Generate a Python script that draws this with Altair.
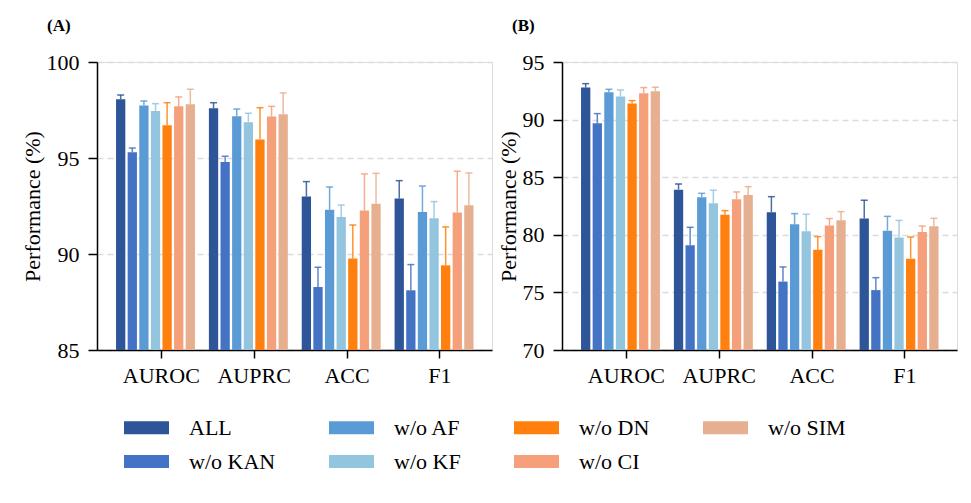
import altair as alt
import pandas as pd

metrics = ["AUROC", "AUPRC", "ACC", "F1"]
series = ["ALL", "w/o KAN", "w/o AF", "w/o KF", "w/o DN", "w/o CI", "w/o SIM"]
colors = ["#2E5597", "#4472C4", "#5B9BD5", "#93C5DF", "#FF800E", "#F5A07A", "#E6AF8F"]

# Panel A: mean per series, one list per metric order
a_auroc = [98.06, 95.30, 97.74, 97.45, 96.70, 97.69, 97.80]
a_auprc = [97.59, 94.79, 97.17, 96.86, 95.97, 97.16, 97.28]
a_acc = [92.99, 88.28, 92.31, 91.93, 89.76, 92.26, 92.62]
a_f1 = [92.89, 88.11, 92.19, 91.86, 89.41, 92.16, 92.54]
a_auroc_sd = [0.22, 0.22, 0.23, 0.38, 1.18, 0.49, 0.78]
a_auprc_sd = [0.29, 0.30, 0.38, 0.47, 1.65, 0.53, 1.11]
a_acc_sd = [0.78, 1.03, 1.18, 0.62, 1.75, 1.91, 1.58]
a_f1_sd = [0.93, 1.34, 1.35, 0.87, 2.00, 2.15, 1.68]

# Panel B
b_auroc = [92.78, 89.68, 92.37, 92.00, 91.39, 92.28, 92.46]
b_auprc = [83.92, 79.09, 83.26, 82.74, 81.75, 83.08, 83.46]
b_acc = [81.95, 75.94, 80.91, 80.30, 78.71, 80.80, 81.26]
b_f1 = [81.41, 75.20, 80.36, 79.77, 77.93, 80.24, 80.74]
b_auroc_sd = [0.34, 0.84, 0.26, 0.57, 0.26, 0.50, 0.35]
b_auprc_sd = [0.49, 1.56, 0.34, 1.13, 0.35, 0.64, 0.72]
b_acc_sd = [1.36, 1.27, 0.93, 1.48, 1.13, 0.61, 0.75]
b_f1_sd = [1.59, 1.08, 1.24, 1.48, 1.88, 0.52, 0.69]

a_y_ticks = [85, 90, 95, 100]
b_y_ticks = [70, 75, 80, 85, 90, 95]

FONT = "'Liberation Serif', 'Times New Roman', Times, serif"


def make_df(means, sds):
    rows = []
    for m, mv, sv in zip(metrics, means, sds):
        for s, v, e in zip(series, mv, sv):
            rows.append({"metric": m, "series": s, "value": v, "upper": round(v + e, 3)})
    return pd.DataFrame(rows)


def panel(df, ticks, label, show_legend):
    ymin, ymax = ticks[0], ticks[-1]
    xenc = alt.X(
        "metric:N",
        sort=metrics,
        scale=alt.Scale(paddingInner=0, paddingOuter=0.127, align=0.758),
        axis=alt.Axis(title=None, labelAngle=0, labelFontSize=22, labelFont=FONT,
                      labelColor="black", tickSize=8, tickWidth=1.5, tickColor="black",
                      domainColor="black", domainWidth=1.5, grid=False, labelPadding=7),
    )
    xoff = alt.XOffset("series:N", scale=alt.Scale(domain=series + ["_pad"], paddingInner=0.2, paddingOuter=0.1))
    yscale = alt.Scale(domain=[ymin, ymax], zero=False, nice=False)
    yaxis = alt.Axis(title="Performance (%)", values=ticks, labelFontSize=22, labelFont=FONT,
                     labelColor="black", titleFont=FONT, titleFontSize=22, titleFontWeight="normal",
                     titleColor="black", tickSize=9, tickWidth=1.5, tickColor="black",
                     domainColor="black", domainWidth=1.5, labelPadding=9, titlePadding=2,
                     grid=True, gridDash=[6, 4], gridColor="#dcdcdc", gridWidth=1.3)
    cscale = alt.Scale(domain=series, range=colors)
    leg = alt.Legend(title=None, orient="none", legendX=27, legendY=343, columns=4,
                     symbolType="M-1,-0.29H1V0.29H-1Z", symbolSize=2025, symbolStrokeWidth=0,
                     symbolOpacity=1, labelFont=FONT, labelFontSize=22, labelColor="black",
                     labelOffset=20, columnPadding=53, rowPadding=0, labelLimit=300)
    base = alt.Chart(df).encode(x=xenc, xOffset=xoff)
    bars = base.mark_bar().encode(
        y=alt.Y("value:Q", scale=yscale, axis=yaxis),
        y2=alt.datum(ymin),
        color=alt.Color("series:N", scale=cscale, legend=leg if show_legend else None),
    )
    rule = base.mark_rule(strokeWidth=1.5, opacity=0.85).encode(
        y=alt.Y("value:Q"), y2="upper:Q",
        color=alt.Color("series:N", scale=cscale, legend=None),
    )
    cap = base.mark_tick(size=7, thickness=1.5, opacity=0.85).encode(
        y=alt.Y("upper:Q"),
        color=alt.Color("series:N", scale=cscale, legend=None),
    )
    return alt.layer(bars, rule, cap).properties(
        width=395, height=288,
        title=alt.TitleParams(label, anchor="start", frame="group", dx=-50, offset=16,
                              font=FONT, fontSize=17, fontWeight="bold", color="black"),
    )


dfa = make_df([a_auroc, a_auprc, a_acc, a_f1], [a_auroc_sd, a_auprc_sd, a_acc_sd, a_f1_sd])
dfb = make_df([b_auroc, b_auprc, b_acc, b_f1], [b_auroc_sd, b_auprc_sd, b_acc_sd, b_f1_sd])

chart = alt.hconcat(
    panel(dfa, a_y_ticks, "(A)", True),
    panel(dfb, b_y_ticks, "(B)", False),
    spacing=3,
).properties(
    padding={"left": 12, "top": 8, "right": 5, "bottom": 5}
).configure_view(stroke=None).configure(background="white")

chart.save("out.html", embed_options={"renderer": "svg", "actions": False})
